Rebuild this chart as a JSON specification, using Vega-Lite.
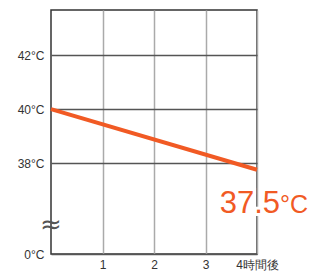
{
  "$schema": "https://vega.github.io/schema/vega-lite/v6.json",
  "width": 206,
  "height": 244,
  "autosize": {"type": "none"},
  "padding": {"left": 51, "top": 10, "right": 58, "bottom": 17},
  "background": "white",
  "config": {
    "view": {"stroke": "#333333", "strokeWidth": 1.5},
    "font": "Liberation Sans"
  },
  "datasets": {
    "line": [{"t": 0, "temp": 40}, {"t": 4, "temp": 37.75}],
    "label": [{"t": 4, "temp": 36.15, "text": "37.5", "unit": "°C"}],
    "brk": [{"t": 0, "temp": 35.7, "text": "≈"}]
  },
  "layer": [
    {
      "data": {"name": "line"},
      "mark": {"type": "line", "color": "#f15a24", "strokeWidth": 4, "clip": false},
      "encoding": {
        "x": {
          "field": "t", "type": "quantitative",
          "scale": {"domain": [0, 4], "nice": false, "zero": false},
          "axis": {
            "title": null, "domain": false, "ticks": false,
            "values": [1, 2, 3, 4],
            "labelExpr": "datum.value == 4 ? '4時間後' : format(datum.value, 'd')",
            "labelFontSize": 12, "labelColor": "#333333", "labelPadding": 5,
            "labelFlush": false,
            "grid": true, "gridColor": "#aaaaaa", "gridWidth": 1.5
          }
        },
        "y": {
          "field": "temp", "type": "quantitative",
          "scale": {"domain": [34.63, 43.67], "nice": false, "zero": false},
          "axis": {
            "title": null, "domain": false, "ticks": false,
            "values": [34.63, 38, 40, 42],
            "labelExpr": "datum.value < 35 ? '0°C' : format(datum.value, 'd') + '°C'",
            "labelFontSize": 12, "labelColor": "#333333", "labelPadding": 7,
            "labelFlush": false,
            "grid": true, "gridColor": "#555555", "gridWidth": 1.5
          }
        }
      }
    },
    {
      "data": {"name": "brk"},
      "mark": {"type": "text", "fontSize": 26, "font": "DejaVu Sans", "color": "#555555", "align": "center", "baseline": "middle"},
      "encoding": {
        "x": {"field": "t", "type": "quantitative"},
        "y": {"field": "temp", "type": "quantitative"},
        "text": {"field": "text"}
      }
    },
    {
      "data": {"name": "label"},
      "mark": {"type": "text", "fontSize": 31, "align": "right", "baseline": "alphabetic", "dx": 23, "color": "white", "stroke": "white", "strokeWidth": 6, "letterSpacing": -1.5},
      "encoding": {
        "x": {"field": "t", "type": "quantitative"},
        "y": {"field": "temp", "type": "quantitative"},
        "text": {"field": "text"}
      }
    },
    {
      "data": {"name": "label"},
      "mark": {"type": "text", "fontSize": 31, "align": "right", "baseline": "alphabetic", "dx": 23, "color": "#f15a24", "letterSpacing": -1.5},
      "encoding": {
        "x": {"field": "t", "type": "quantitative"},
        "y": {"field": "temp", "type": "quantitative"},
        "text": {"field": "text"}
      }
    },
    {
      "data": {"name": "label"},
      "mark": {"type": "text", "fontSize": 25, "align": "left", "baseline": "alphabetic", "dx": 23, "color": "#f15a24"},
      "encoding": {
        "x": {"field": "t", "type": "quantitative"},
        "y": {"field": "temp", "type": "quantitative"},
        "text": {"field": "unit"}
      }
    }
  ]
}
